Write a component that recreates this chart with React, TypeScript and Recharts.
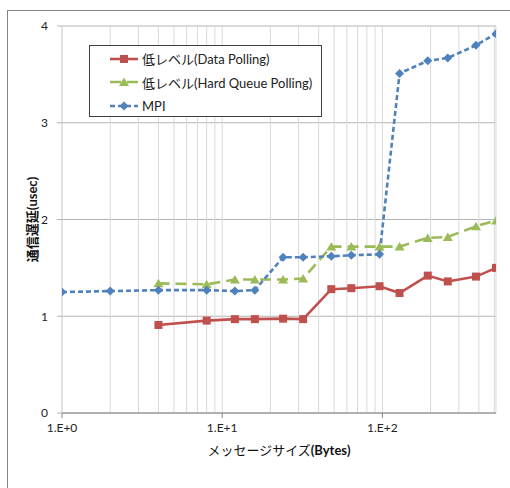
import React from 'react';
import { LineChart, Line, XAxis, YAxis, CartesianGrid, ReferenceLine, Label } from 'recharts';

const sizes = [1, 2, 4, 8, 12, 16, 24, 32, 48, 64, 96, 128, 192, 256, 384, 512];
const dataPolling = [null, null, 0.91, 0.955, 0.97, 0.97, 0.975, 0.97, 1.28, 1.29, 1.31, 1.24, 1.42, 1.36, 1.41, 1.5];
const hardQueue = [null, null, 1.34, 1.33, 1.38, 1.38, 1.38, 1.39, 1.72, 1.72, 1.72, 1.72, 1.81, 1.82, 1.93, 1.99];
const mpi = [1.25, 1.26, 1.27, 1.27, 1.26, 1.27, 1.61, 1.61, 1.62, 1.63, 1.64, 3.51, 3.64, 3.67, 3.8, 3.92];
const seriesNames = ['低レベル(Data Polling)', '低レベル(Hard Queue Polling)', 'MPI'];
const xTicks = [1, 10, 100];
const xTickLabels = ['1.E+0', '1.E+1', '1.E+2'];
const yTicks = [0, 1, 2, 3, 4];
const gridXValues = [2, 3, 4, 5, 6, 7, 8, 9, 10, 20, 30, 40, 50, 60, 70, 80, 90, 100, 200, 300, 400, 500, 512];
const yTitle = '通信遅延(usec)';
const xTitleJa = 'メッセージサイズ';
const xTitleEn = '(Bytes)';

const data = sizes.map((s, i) => ({ size: s, dp: dataPolling[i], hq: hardQueue[i], mpi: mpi[i] }));

const FONT = "Lato, 'Noto Sans CJK JP', sans-serif";
const RED = '#C0504D';
const GREEN = '#9BBB59';
const BLUE = '#4F81BD';
const SW = 2.6;

const Square = (p: any) => {
  if (p.cx == null || p.cy == null || p.value == null) return <g key={p.key} />;
  return <rect key={p.key} x={p.cx - 4} y={p.cy - 4} width={8} height={8} fill={RED} />;
};
const Tri = (p: any) => {
  if (p.cx == null || p.cy == null || p.value == null) return <g key={p.key} />;
  const { cx, cy } = p;
  return <path key={p.key} d={`M${cx - 5},${cy + 4} L${cx + 5},${cy + 4} L${cx},${cy - 4.5} Z`} fill={GREEN} />;
};
const Diamond = (p: any) => {
  if (p.cx == null || p.cy == null || p.value == null) return <g key={p.key} />;
  const { cx, cy } = p;
  return <path key={p.key} d={`M${cx},${cy - 4.5} L${cx + 4.5},${cy} L${cx},${cy + 4.5} L${cx - 4.5},${cy} Z`} fill={BLUE} />;
};

const LegendBox = () => {
  const rows = [
    { name: seriesNames[0], color: RED, dash: undefined, mark: 'sq' },
    { name: seriesNames[1], color: GREEN, dash: '11 6', mark: 'tri' },
    { name: seriesNames[2], color: BLUE, dash: '5 3', mark: 'dia' },
  ];
  return (
    <div style={{ position: 'absolute', left: 89, top: 45, width: 233, height: 72, border: '1px solid #404040', background: '#fff', boxSizing: 'border-box', paddingTop: 1 }}>
      {rows.map((r, i) => (
        <div key={i} style={{ display: 'flex', alignItems: 'center', height: 23.5, paddingLeft: 20 }}>
          <svg width={30} height={12} style={{ marginRight: 2 }}>
            <line x1={0} y1={6} x2={28} y2={6} stroke={r.color} strokeWidth={SW} strokeDasharray={r.dash} />
            {r.mark === 'sq' && <rect x={10} y={2} width={8} height={8} fill={r.color} />}
            {r.mark === 'tri' && <path d="M9,10 L19,10 L14,1.5 Z" fill={r.color} />}
            {r.mark === 'dia' && <path d="M14,1.5 L18.5,6 L14,10.5 L9.5,6 Z" fill={r.color} />}
          </svg>
          <span style={{ fontFamily: FONT, fontSize: 13, color: '#222', whiteSpace: 'nowrap' }}>{r.name}</span>
        </div>
      ))}
    </div>
  );
};

export default function App() {
  return (
    <div style={{ position: 'absolute', left: 0, top: 0, width: 510, height: 488, overflow: 'hidden', background: '#fff' }}>
      <div style={{ position: 'absolute', left: 7, top: 10, width: 540, height: 520, border: '1px solid #858585' }} />
      <div style={{ position: 'absolute', left: 0, top: 0 }}>
        <LineChart width={510} height={488} data={data} margin={{ top: 26, right: 14, bottom: 35, left: 0 }} style={{ fontFamily: FONT }}>
          <CartesianGrid vertical={false} stroke="#b4b4b4" strokeWidth={1} />
          {gridXValues.map((v) => (
            <ReferenceLine key={v} x={v} stroke="#d9d9d9" strokeWidth={1} />
          ))}
          <XAxis
            dataKey="size"
            type="number"
            scale="log"
            domain={[1, 512]}
            ticks={xTicks}
            tickFormatter={(v: number) => xTickLabels[xTicks.indexOf(v)] ?? ''}
            tick={{ fill: '#222', fontSize: 12, fontFamily: FONT }}
            axisLine={{ stroke: '#868686' }}
            tickLine={{ stroke: '#868686' }}
            tickSize={5}
            tickMargin={5}
            height={40}
            allowDataOverflow
          >
            <Label
              content={(props: any) => {
                const vb = props.viewBox;
                return (
                  <text x={vb.x + vb.width / 2} y={vb.y + 42} textAnchor="middle" fontFamily={FONT} fontSize={13} fill="#111">
                    <tspan>{xTitleJa}</tspan>
                    <tspan fontWeight="bold">{xTitleEn}</tspan>
                  </text>
                );
              }}
            />
          </XAxis>
          <YAxis
            type="number"
            domain={[0, 4]}
            ticks={yTicks}
            width={62}
            tick={{ fill: '#222', fontSize: 12, fontFamily: FONT }}
            axisLine={{ stroke: '#c8c8c8' }}
            tickLine={{ stroke: '#b4b4b4' }}
            tickSize={5}
            tickMargin={9}
          >
            <Label
              content={(props: any) => {
                const vb = props.viewBox;
                const cx = vb.x + 32;
                const cy = vb.y + vb.height / 2;
                return (
                  <text x={cx} y={cy} transform={`rotate(-90 ${cx} ${cy})`} textAnchor="middle" dominantBaseline="central" fontFamily={FONT} fontSize={13} fontWeight="bold" fill="#111">
                    {yTitle}
                  </text>
                );
              }}
            />
          </YAxis>
          <Line type="linear" dataKey="dp" name={seriesNames[0]} stroke={RED} strokeWidth={SW} dot={<Square />} activeDot={false} isAnimationActive={false} />
          <Line type="linear" dataKey="hq" name={seriesNames[1]} stroke={GREEN} strokeWidth={SW} strokeDasharray="11 6" dot={<Tri />} activeDot={false} isAnimationActive={false} />
          <Line type="linear" dataKey="mpi" name={seriesNames[2]} stroke={BLUE} strokeWidth={SW} strokeDasharray="5 3" dot={<Diamond />} activeDot={false} isAnimationActive={false} />
        </LineChart>
      </div>
      <LegendBox />
    </div>
  );
}
